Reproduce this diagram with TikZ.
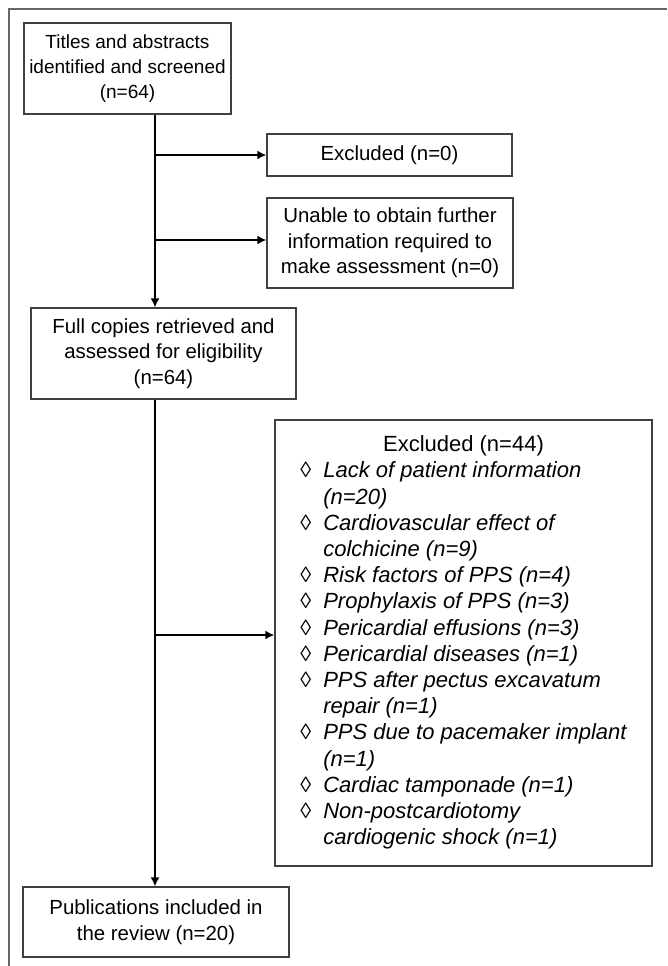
\documentclass[tikz,border=0pt]{standalone}
\usepackage{fontspec}
\setmainfont{Liberation Sans}
\usetikzlibrary{arrows, arrows.meta, positioning}
\tikzset{
	flowbox/.style={draw=black!75, line width=1.2pt, inner sep=3pt, align=center, font=\fontsize{20.4}{25.5}\selectfont},
	flowarrow/.style={-{Latex[length=9pt,width=9pt]}, line width=2.8pt},
}
\newcommand{\exitem}{\char"25CA}

\begin{document}
\begin{tikzpicture}[x=1pt, y=-1pt]
		\useasboundingbox (0,0) rectangle (667,966);
		\draw[black!60, line width=1.5pt] (667,9) -- (9,9) -- (9,966);
		\coordinate (trunk) at (155,0);
		
		\draw (127.5,68.5) node[flowbox, minimum width=207pt, minimum height=91pt, font=\fontsize{19}{25}\selectfont] (titles) {Titles and abstracts\\identified and screened\\(n=64)}
		(389.5,155) node[flowbox, minimum width=245pt, minimum height=42pt] (excl0) {Excluded (n=0)}
		(390,243) node[flowbox, minimum width=246pt, minimum height=90pt] (unable) {Unable to obtain further\\information required to\\make assessment (n=0)}
		(163.5,353.5) node[flowbox, minimum width=265pt, minimum height=91pt] (full) {Full copies retrieved and\\assessed for eligibility\\(n=64)}
		(463.5,643) node[flowbox, minimum width=377pt, minimum height=446pt, font=\fontsize{22}{26.2}\selectfont] (excl44) {%
			\begin{tabular}{@{}l@{\hskip 12pt}l@{}}
				\multicolumn{2}{c}{Excluded (n=44)}\\
				\exitem & \itshape Lack of patient information\\
				        & \itshape (n=20)\\
				\exitem & \itshape Cardiovascular effect of\\
				        & \itshape colchicine (n=9)\\
				\exitem & \itshape Risk factors of PPS (n=4)\\
				\exitem & \itshape Prophylaxis of PPS (n=3)\\
				\exitem & \itshape Pericardial effusions (n=3)\\
				\exitem & \itshape Pericardial diseases (n=1)\\
				\exitem & \itshape PPS after pectus excavatum\\
				        & \itshape repair (n=1)\\
				\exitem & \itshape PPS due to pacemaker implant\\
				        & \itshape (n=1)\\
				\exitem & \itshape Cardiac tamponade (n=1)\\
				\exitem & \itshape Non-postcardiotomy\\
				        & \itshape cardiogenic shock (n=1)
			\end{tabular}}
		(156,922) node[flowbox, minimum width=266pt, minimum height=70pt] (pubs) {Publications included in\\the review (n=20)};
		
		\draw[flowarrow] (titles.south -| trunk) -- (full.north -| trunk);
		\draw[flowarrow] (excl0.west -| trunk) -- (excl0.west);
		\draw[flowarrow] ([yshift=3pt]unable.west -| trunk) -- ([yshift=3pt]unable.west);
		\draw[flowarrow] (full.south -| trunk) -- (pubs.north -| trunk);
		\draw[flowarrow] ([yshift=8pt]excl44.west -| trunk) -- ([yshift=8pt]excl44.west);
	\end{tikzpicture}
\end{document}
